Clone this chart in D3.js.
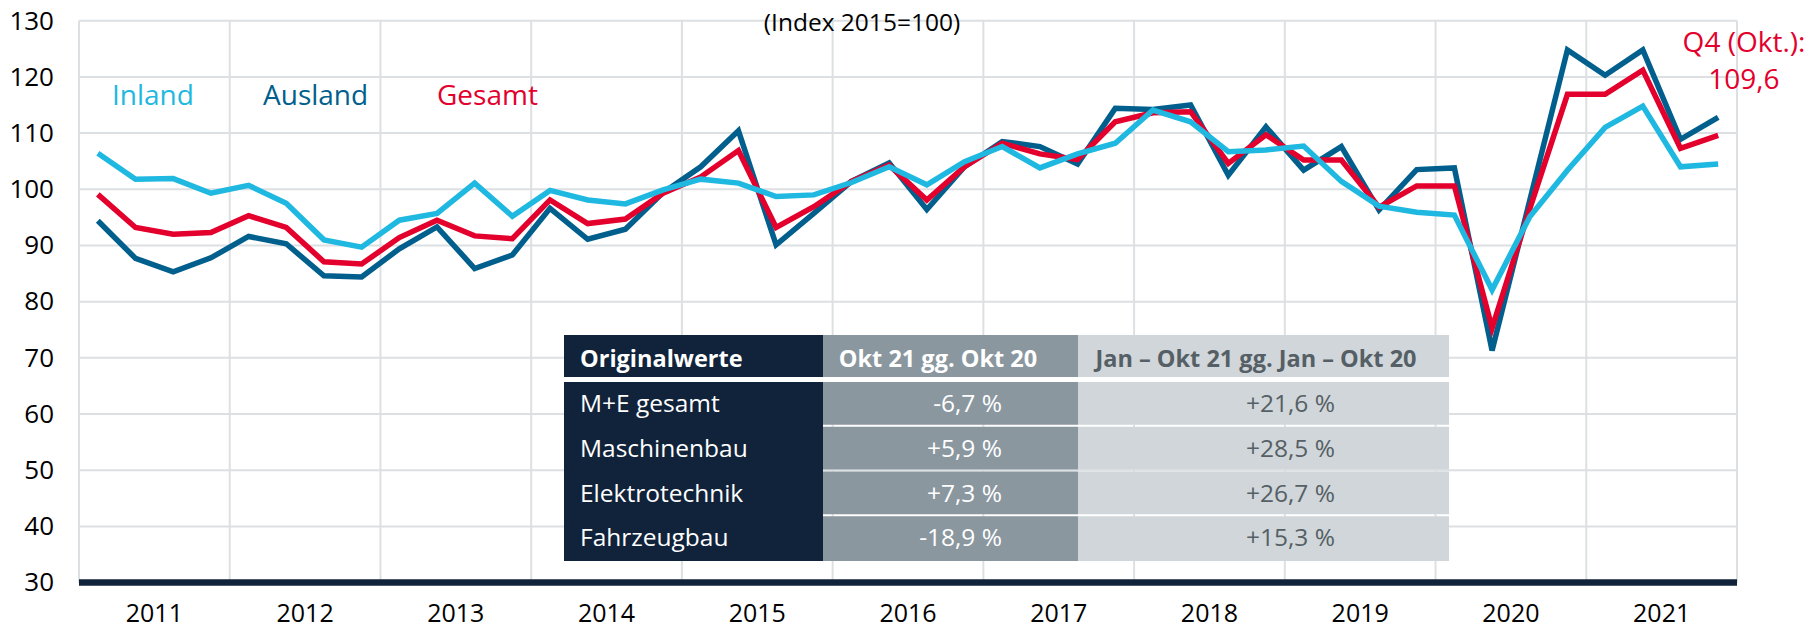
<!DOCTYPE html>
<html>

<head>
    <meta charset="utf-8">
</head>
<style>
    body { margin: 0; background: #fff; }
    text { font-family: "Open Sans", sans-serif; }
    .grid line { stroke: #dde0e3; stroke-width: 2; }
    .line { fill: none; stroke-width: 5.5; stroke-linejoin: miter; }
    .axis text { font-size: 26px; fill: #000; font-family: "Open Sans", sans-serif; }
    .axis.x text { font-size: 25px; }
</style>

<body>
    <svg width="1812" height="630"></svg>
    <script src="https://d3js.org/d3.v7.min.js"></script>
    <script>
        // Auftragseingang M+E, Quartale 2011 bis 2021 (Index 2015=100)
        var years = ["2011", "2012", "2013", "2014", "2015", "2016", "2017", "2018", "2019", "2020", "2021"];
        var quarters = years.flatMap(function (y) { return [y + "Q1", y + "Q2", y + "Q3", y + "Q4"]; });

        var inland = [106.4, 101.8, 101.9, 99.3, 100.7, 97.5, 91.0, 89.7,
            94.5, 95.7, 101.1, 95.2, 99.8, 98.1, 97.4, 99.9,
            101.8, 101.1, 98.7, 99.0, 101.2, 104.0, 100.8, 104.9,
            107.6, 103.8, 106.3, 108.2, 114.1, 112.0, 106.7, 107.0,
            107.7, 101.4, 97.0, 95.9, 95.4, 82.1, 95.1, 103.4,
            111.0, 114.8, 104.0, 104.5];
        var ausland = [94.4, 87.7, 85.3, 87.8, 91.6, 90.3, 84.6, 84.4,
            89.4, 93.3, 85.9, 88.3, 96.6, 91.1, 92.9, 99.4,
            104.0, 110.4, 90.1, 95.7, 101.4, 104.7, 96.4, 104.0,
            108.5, 107.6, 104.5, 114.4, 114.2, 115.0, 102.5, 111.1,
            103.4, 107.6, 96.3, 103.5, 103.8, 71.3, 98.0, 124.8,
            120.3, 124.8, 108.9, 112.8];
        var gesamt = [99.1, 93.2, 92.0, 92.3, 95.3, 93.2, 87.1, 86.7,
            91.4, 94.5, 91.7, 91.2, 98.1, 93.9, 94.7, 99.3,
            102.2, 106.9, 93.2, 96.9, 101.4, 104.3, 98.1, 104.0,
            108.2, 106.3, 105.3, 112.0, 113.6, 113.8, 104.6, 109.7,
            105.2, 105.2, 96.8, 100.6, 100.6, 75.3, 96.5, 116.9,
            116.9, 121.2, 107.3, 109.6];
        var yTicks = [30, 40, 50, 60, 70, 80, 90, 100, 110, 120, 130];

        var seriesNames = ["Ausland", "Gesamt", "Inland"];
        var seriesColors = { Inland: "#1fb8e0", Ausland: "#005f8c", Gesamt: "#e3002c" };

        var tableHeader = ["Originalwerte", "Okt 21 gg. Okt 20", "Jan – Okt 21 gg. Jan – Okt 20"];
        var tableRows = ["M+E gesamt", "Maschinenbau", "Elektrotechnik", "Fahrzeugbau"];
        var oktValues = ["-6,7 %", "+5,9 %", "+7,3 %", "-18,9 %"];
        var janOktValues = ["+21,6 %", "+28,5 %", "+26,7 %", "+15,3 %"];

        var svg = d3.select("svg"),
            plotLeft = 79, plotRight = 1737, plotTop = 20.7, plotBottom = 582.6;

        var xYear = d3.scaleBand().domain(years).range([plotLeft, plotRight]);
        var x = d3.scalePoint().domain(quarters).range([plotLeft, plotRight]).padding(0.5);
        var y = d3.scaleLinear().domain([30, 130]).range([plotBottom, plotTop]);

        // gridlines
        var grid = svg.append("g").attr("class", "grid");
        grid.selectAll(".h").data(yTicks.slice(1)).enter().append("line")
            .attr("x1", plotLeft).attr("x2", plotRight)
            .attr("y1", function (d) { return y(d); })
            .attr("y2", function (d) { return y(d); });
        var edges = years.map(function (d) { return xYear(d); }).concat([plotRight]);
        grid.selectAll(".v").data(edges).enter().append("line")
            .attr("x1", function (d) { return d; }).attr("x2", function (d) { return d; })
            .attr("y1", y(130)).attr("y2", y(30));

        // axes
        svg.append("g")
            .attr("class", "axis y")
            .attr("transform", "translate(" + plotLeft + ",0)")
            .call(d3.axisLeft(y).tickValues(yTicks).tickSize(0).tickPadding(25))
            .call(function (g) { g.select(".domain").remove(); });

        svg.append("g")
            .attr("class", "axis x")
            .attr("transform", "translate(0," + plotBottom + ")")
            .call(d3.axisBottom(xYear).tickSize(0).tickPadding(22))
            .call(function (g) { g.select(".domain").remove(); });

        svg.append("line")
            .attr("x1", plotLeft).attr("x2", plotRight)
            .attr("y1", y(30)).attr("y2", y(30))
            .attr("stroke", "#10233a").attr("stroke-width", 6.5);

        // lines
        var data = { Inland: inland, Ausland: ausland, Gesamt: gesamt };
        var line = d3.line()
            .x(function (d, i) { return x(quarters[i]); })
            .y(function (d) { return y(d); });

        svg.selectAll(".line").data(seriesNames).enter().append("path")
            .attr("class", "line")
            .attr("stroke", function (d) { return seriesColors[d]; })
            .attr("d", function (d) { return line(data[d]); });

        // texts
        svg.append("text").attr("x", 862).attr("y", 30.5)
            .attr("text-anchor", "middle").attr("font-size", 24.5)
            .text("(Index 2015=100)");

        var legendX = { Inland: 112, Ausland: 263, Gesamt: 437 };
        svg.selectAll(".legend").data(["Inland", "Ausland", "Gesamt"]).enter().append("text")
            .attr("x", function (d) { return legendX[d]; })
            .attr("y", 105)
            .attr("font-size", 28)
            .attr("fill", function (d) { return seriesColors[d]; })
            .text(function (d) { return d; });

        svg.append("text").attr("x", 1744).attr("y", 51.5)
            .attr("text-anchor", "middle").attr("font-size", 28).attr("fill", seriesColors.Gesamt)
            .text("Q4 (Okt.):");
        svg.append("text").attr("x", 1744).attr("y", 89)
            .attr("text-anchor", "middle").attr("font-size", 28).attr("fill", seriesColors.Gesamt)
            .text(d3.format(".1f")(gesamt[gesamt.length - 1]).replace(".", ","));

        // table
        var t = svg.append("g"),
            tx = [564, 823, 1078, 1449],
            headTop = 335, headBottom = 377, rowTop = 382, rowPitch = 44.75;
        var colFill = ["#10233a", "#8a979f", "#d0d6d9"];

        t.append("rect").attr("x", tx[0]).attr("y", headTop)
            .attr("width", tx[1] - tx[0]).attr("height", rowTop + 4 * rowPitch - headTop)
            .attr("fill", colFill[0]);
        [1, 2].forEach(function (c) {
            t.append("rect").attr("x", tx[c]).attr("y", headTop)
                .attr("width", tx[c + 1] - tx[c]).attr("height", headBottom - headTop)
                .attr("fill", colFill[c]);
            t.selectAll(".r" + c).data(tableRows).enter().append("rect")
                .attr("x", tx[c])
                .attr("y", function (d, i) { return rowTop + i * rowPitch; })
                .attr("width", tx[c + 1] - tx[c])
                .attr("height", function (d, i) { return i < 3 ? rowPitch - 2 : rowPitch; })
                .attr("fill", colFill[c]);
        });
        t.append("rect").attr("x", tx[0]).attr("y", headBottom)
            .attr("width", tx[3] - tx[0]).attr("height", rowTop - headBottom).attr("fill", "#fff");

        var headX = [580, 938, 1256], headAnchor = ["start", "middle", "middle"],
            headColor = ["#fff", "#fff", "#555f65"];
        t.selectAll(".head").data(tableHeader).enter().append("text")
            .attr("x", function (d, i) { return headX[i]; })
            .attr("y", 367)
            .attr("text-anchor", function (d, i) { return headAnchor[i]; })
            .attr("font-size", 23.5).attr("font-weight", "bold")
            .attr("fill", function (d, i) { return headColor[i]; })
            .text(function (d) { return d; });

        function rowY(d, i) { return rowTop + i * rowPitch + 30; }
        t.selectAll(".name").data(tableRows).enter().append("text")
            .attr("x", 580).attr("y", rowY).attr("font-size", 24.5).attr("fill", "#fff")
            .text(function (d) { return d; });
        t.selectAll(".okt").data(oktValues).enter().append("text")
            .attr("x", 1002).attr("y", rowY).attr("text-anchor", "end")
            .attr("font-size", 24.5).attr("fill", "#fff")
            .text(function (d) { return d; });
        t.selectAll(".jan").data(janOktValues).enter().append("text")
            .attr("x", 1335).attr("y", rowY).attr("text-anchor", "end")
            .attr("font-size", 24.5).attr("fill", "#555f65")
            .text(function (d) { return d; });
    </script>

</body>

</html>
